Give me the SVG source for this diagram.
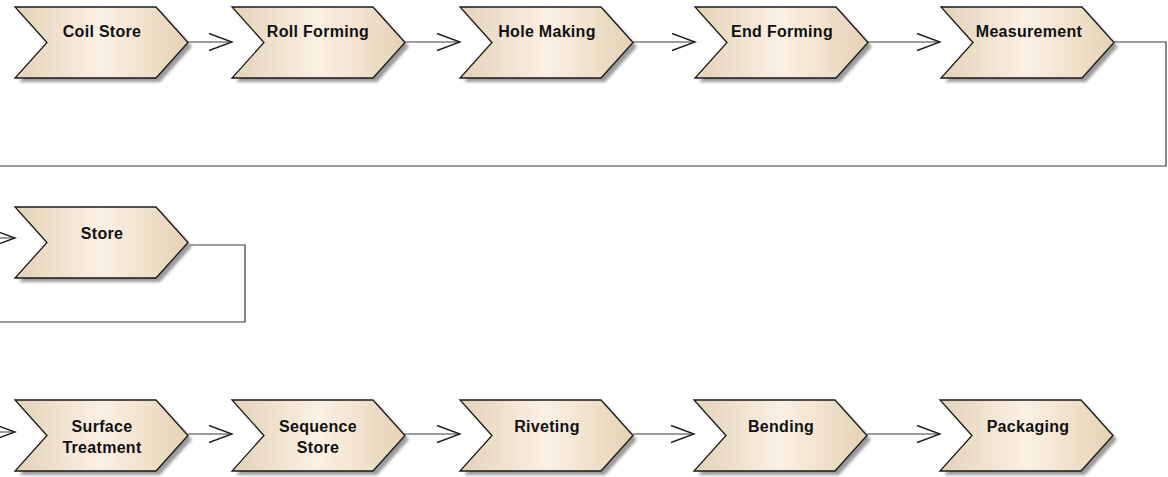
<svg xmlns="http://www.w3.org/2000/svg" width="1168" height="477" viewBox="0 0 1168 477">
  <style>
    .body { fill: url(#g); stroke: #1a1a1a; stroke-width: 1.3; stroke-linejoin: miter; }
    .shadow { fill: #9a9a9a; filter: url(#blur); }
    .lbl { font-family: "Liberation Sans", Arial, sans-serif; font-weight: bold; font-size: 16px; fill: #111111; text-anchor: middle; letter-spacing: 0.3px; }
    .conn { fill: none; stroke: #3a3a3a; stroke-width: 1.2; marker-end: url(#arr); }
  </style>
  <defs>
    <linearGradient id="g" x1="0" y1="0" x2="1" y2="0">
      <stop offset="0" stop-color="#e4d2b8"/>
      <stop offset="0.5" stop-color="#faf1e4"/>
      <stop offset="1" stop-color="#e6d2b4"/>
    </linearGradient>
    <filter id="blur" x="-10%" y="-10%" width="120%" height="130%">
      <feGaussianBlur stdDeviation="1.5"/>
    </filter>
    <polygon id="chev" points="0,0 141,0 173,35.5 141,71 0,71 32,35.5"/>
    <marker id="arr" markerUnits="userSpaceOnUse" markerWidth="26" markerHeight="20" refX="23" refY="9" orient="auto" overflow="visible">
      <path d="M0,0.5 L23,9 L0,17.5" fill="none" stroke="#222" stroke-width="1.4"/>
    </marker>
  </defs>
  <rect width="1168" height="477" fill="#ffffff"/>

  <g id="connectors">
    <path class="conn" d="M188 42 H232"/>
    <path class="conn" d="M404 42 H460"/>
    <path class="conn" d="M633 42 H695"/>
    <path class="conn" d="M868 42 H940"/>
    <path class="conn" d="M1114 42 H1166 V166 H-20 V238 H15"/>
    <path class="conn" d="M189 245 H245 V322 H-20 V432 H15"/>
    <path class="conn" d="M188 434 H232"/>
    <path class="conn" d="M404 434 H460"/>
    <path class="conn" d="M633 434 H694"/>
    <path class="conn" d="M867 434 H940"/>
  </g>

  <g id="coil-store" transform="translate(15,7)">
    <use href="#chev" class="shadow" x="4" y="4"/>
    <use href="#chev" class="body"/>
    <text class="lbl" x="87" y="30">Coil Store</text>
  </g>
  <g id="roll-forming" transform="translate(232,7)">
    <use href="#chev" class="shadow" x="4" y="4"/>
    <use href="#chev" class="body"/>
    <text class="lbl" x="86" y="30">Roll Forming</text>
  </g>
  <g id="hole-making" transform="translate(460,7)">
    <use href="#chev" class="shadow" x="4" y="4"/>
    <use href="#chev" class="body"/>
    <text class="lbl" x="87" y="30">Hole Making</text>
  </g>
  <g id="end-forming" transform="translate(695,7)">
    <use href="#chev" class="shadow" x="4" y="4"/>
    <use href="#chev" class="body"/>
    <text class="lbl" x="87" y="30">End Forming</text>
  </g>
  <g id="measurement" transform="translate(941,7)">
    <use href="#chev" class="shadow" x="4" y="4"/>
    <use href="#chev" class="body"/>
    <text class="lbl" x="88" y="30">Measurement</text>
  </g>

  <g id="store" transform="translate(15,207)">
    <use href="#chev" class="shadow" x="4" y="4"/>
    <use href="#chev" class="body"/>
    <text class="lbl" x="87" y="32">Store</text>
  </g>

  <g id="surface-treatment" transform="translate(15,400)">
    <use href="#chev" class="shadow" x="4" y="4"/>
    <use href="#chev" class="body"/>
    <text class="lbl" x="87" y="32">Surface</text>
    <text class="lbl" x="87" y="53">Treatment</text>
  </g>
  <g id="sequence-store" transform="translate(232,400)">
    <use href="#chev" class="shadow" x="4" y="4"/>
    <use href="#chev" class="body"/>
    <text class="lbl" x="86" y="32">Sequence</text>
    <text class="lbl" x="86" y="53">Store</text>
  </g>
  <g id="riveting" transform="translate(460,400)">
    <use href="#chev" class="shadow" x="4" y="4"/>
    <use href="#chev" class="body"/>
    <text class="lbl" x="87" y="32">Riveting</text>
  </g>
  <g id="bending" transform="translate(694,400)">
    <use href="#chev" class="shadow" x="4" y="4"/>
    <use href="#chev" class="body"/>
    <text class="lbl" x="87" y="32">Bending</text>
  </g>
  <g id="packaging" transform="translate(940,400)">
    <use href="#chev" class="shadow" x="4" y="4"/>
    <use href="#chev" class="body"/>
    <text class="lbl" x="88" y="32">Packaging</text>
  </g>
</svg>
